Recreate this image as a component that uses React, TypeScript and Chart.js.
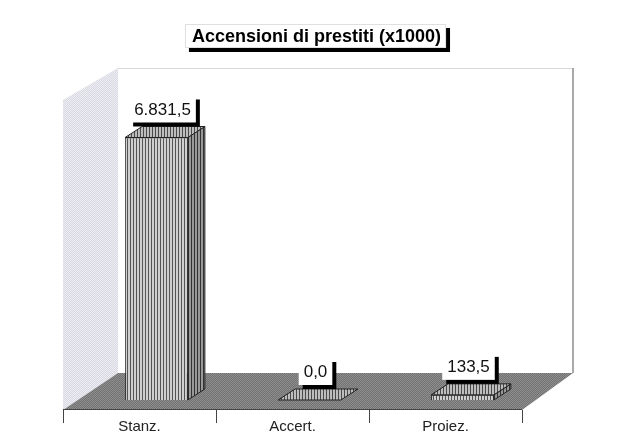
import { useEffect, useRef } from 'react';
import { Chart, registerables } from 'chart.js';

Chart.register(...registerables);

const categories = ['Stanz.', 'Accert.', 'Proiez.'];
const values = [6831.5, 0, 133.5];
const valueLabels = ['6.831,5', '0,0', '133,5'];
const titleText = 'Accensioni di prestiti (x1000)';
const yMax = 8900;

const FONT = '"Liberation Sans", Arial, Helvetica, sans-serif';
const SHIFT_X = 17;
const SHIFT_Y = -10;
const DX = 17;
const DY = 11;
const FLOOR_DX = 51;
const FLOOR_DY = 37;
const WALL_X = 55;
const WALL_TOP_DROP = 32;

function stripes(light: string, dark: string, period = 3) {
  const c = document.createElement('canvas');
  c.width = period;
  c.height = 1;
  const g = c.getContext('2d')!;
  g.fillStyle = light;
  g.fillRect(0, 0, period, 1);
  g.fillStyle = dark;
  g.fillRect(period - 1, 0, 1, 1);
  return g.createPattern(c, 'repeat')!;
}

function checker(a: string, b: string) {
  const c = document.createElement('canvas');
  c.width = 2;
  c.height = 2;
  const g = c.getContext('2d')!;
  g.fillStyle = a;
  g.fillRect(0, 0, 2, 2);
  g.fillStyle = b;
  g.fillRect(0, 0, 1, 1);
  g.fillRect(1, 1, 1, 1);
  return g.createPattern(c, 'repeat')!;
}

function poly(ctx: CanvasRenderingContext2D, pts: number[][], fill: any, stroke?: string, lw = 1) {
  ctx.beginPath();
  ctx.moveTo(pts[0][0], pts[0][1]);
  for (let i = 1; i < pts.length; i++) ctx.lineTo(pts[i][0], pts[i][1]);
  ctx.closePath();
  if (fill) {
    ctx.fillStyle = fill;
    ctx.fill();
  }
  if (stroke) {
    ctx.strokeStyle = stroke;
    ctx.lineWidth = lw;
    ctx.stroke();
  }
}

export default function App() {
  const ref = useRef<HTMLCanvasElement>(null);

  useEffect(() => {
    const canvas = ref.current!;
    const frontPat = stripes('#cfcfcf', '#555555');
    const sidePat = stripes('#999999', '#333333');
    const topPat = stripes('#bdbdbd', '#4a4a4a');
    const floorPat = checker('#727272', '#8e8e8e');
    const wallPat = checker('#d9d9e2', '#ededf3');

    const scene = {
      id: 'scene3d',
      beforeDatasetsDraw(chart: any) {
        const ctx = chart.ctx as CanvasRenderingContext2D;
        const { left: L, right: R, top: T, bottom: B } = chart.chartArea;
        const bx0 = L + WALL_X;
        const bx1 = R + FLOOR_DX;
        const by = B - FLOOR_DY;
        ctx.save();
        // back wall
        ctx.fillStyle = '#ffffff';
        ctx.fillRect(bx0, T, bx1 - bx0, by - T);
        ctx.strokeStyle = '#d8d8d8';
        ctx.lineWidth = 1;
        ctx.beginPath();
        ctx.moveTo(bx0, T + 0.5);
        ctx.lineTo(bx1, T + 0.5);
        ctx.stroke();
        ctx.strokeStyle = '#8c8c8c';
        ctx.lineWidth = 1.5;
        ctx.beginPath();
        ctx.moveTo(bx1, T);
        ctx.lineTo(bx1, by);
        ctx.stroke();
        // left wall
        poly(ctx, [[L, T + WALL_TOP_DROP], [bx0, T], [bx0, by], [L, B]], wallPat);
        // floor
        poly(ctx, [[L, B], [R, B], [bx1, by], [bx0, by]], floorPat);
        ctx.strokeStyle = '#444';
        ctx.lineWidth = 1;
        ctx.beginPath();
        ctx.moveTo(L, B - 0.5);
        ctx.lineTo(R, B - 0.5);
        ctx.stroke();
        ctx.restore();
        // shift the bars onto the floor
        ctx.save();
        ctx.translate(SHIFT_X, SHIFT_Y);
      },
      afterDatasetsDraw(chart: any) {
        const ctx = chart.ctx as CanvasRenderingContext2D;
        ctx.restore();
        const meta = chart.getDatasetMeta(0);
        ctx.save();
        meta.data.forEach((bar: any) => {
          const w = bar.width;
          const l = bar.x - w / 2 + SHIFT_X;
          const r = bar.x + w / 2 + SHIFT_X;
          const t = bar.y + SHIFT_Y;
          const b = bar.base + SHIFT_Y;
          if (b - t > 0.5) {
            poly(ctx, [[r, t], [r + DX, t - DY], [r + DX, b - DY], [r, b]], sidePat, '#222');
          }
          poly(ctx, [[l, t], [l + DX, t - DY], [r + DX, t - DY], [r, t]], topPat, '#222');
        });
        // value labels
        ctx.font = `17px ${FONT}`;
        ctx.textAlign = 'center';
        ctx.textBaseline = 'middle';
        meta.data.forEach((bar: any, i: number) => {
          const txt = valueLabels[i];
          const tw = ctx.measureText(txt).width;
          const cx = bar.x + SHIFT_X + 6;
          const bottom = bar.y + SHIFT_Y - 15;
          const h = 27;
          const bw = tw + 10;
          const x0 = cx - bw / 2;
          const y0 = bottom - h;
          ctx.fillStyle = '#000';
          ctx.fillRect(x0 + 4, y0 + 4, bw, h);
          ctx.fillStyle = '#fff';
          ctx.fillRect(x0, y0, bw, h);
          ctx.fillStyle = '#111';
          ctx.fillText(txt, cx, y0 + h / 2 + 1);
        });
        ctx.restore();
      },
      afterDraw(chart: any) {
        const ctx = chart.ctx as CanvasRenderingContext2D;
        ctx.save();
        ctx.font = `bold 18px ${FONT}`;
        const tw = ctx.measureText(titleText).width;
        const cx = chart.width / 2 + 5;
        const x0 = cx - tw / 2 - 7;
        const bw = tw + 12;
        const y0 = 24;
        const h = 24;
        ctx.fillStyle = '#000';
        ctx.fillRect(x0 + 4, y0 + 4, bw, h);
        ctx.fillStyle = '#fff';
        ctx.fillRect(x0, y0, bw, h);
        ctx.strokeStyle = '#e0e0e0';
        ctx.lineWidth = 1;
        ctx.strokeRect(x0 + 0.5, y0 + 0.5, bw - 1, h - 1);
        ctx.fillStyle = '#000';
        ctx.textAlign = 'center';
        ctx.textBaseline = 'middle';
        ctx.fillText(titleText, cx, y0 + h / 2 + 1);
        ctx.restore();
      },
    };

    const chart = new Chart(canvas, {
      type: 'bar',
      data: {
        labels: categories,
        datasets: [
          {
            data: values,
            backgroundColor: frontPat as any,
            borderColor: '#222',
            borderWidth: 1,
            barPercentage: 0.41,
            categoryPercentage: 1,
            clip: false as any,
          },
        ],
      },
      options: {
        animation: false,
        responsive: false,
        devicePixelRatio: 1,
        layout: { padding: { left: 63, right: 101, top: 68, bottom: 0 } },
        plugins: {
          legend: { display: false },
          title: { display: false },
          tooltip: { enabled: false },
        },
        scales: {
          x: {
            offset: true,
            grid: {
              display: true,
              offset: true,
              drawOnChartArea: false,
              drawTicks: true,
              tickLength: 13,
              color: '#444',
              lineWidth: 1,
            },
            border: { display: false },
            ticks: { font: { family: FONT, size: 15 }, color: '#222', padding: -5 },
            afterFit: (s: any) => {
              s.height = 35;
            },
          },
          y: { display: false, min: 0, max: yMax },
        },
      },
      plugins: [scene],
    });
    return () => chart.destroy();
  }, []);

  return (
    <div style={{ position: 'fixed', left: 0, top: 0, width: 623, height: 445, background: '#fff' }}>
      <canvas ref={ref} width={623} height={445} />
    </div>
  );
}
